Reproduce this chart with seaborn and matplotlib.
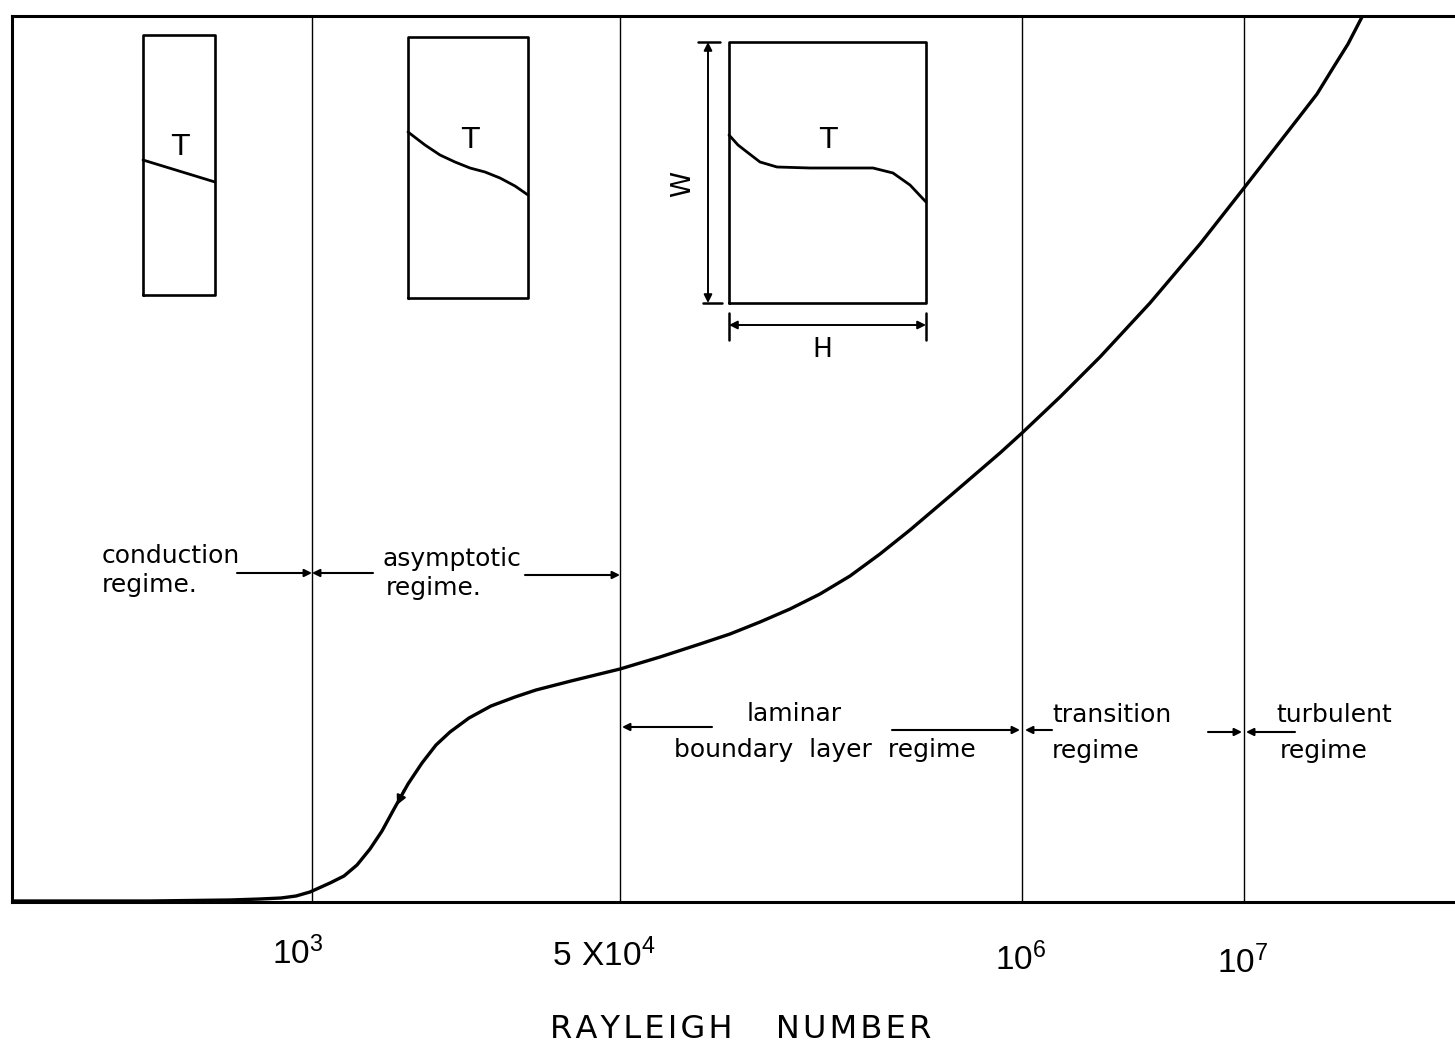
import numpy as np
import pandas as pd
import matplotlib
matplotlib.use("Agg")
import matplotlib.pyplot as plt
import matplotlib.transforms as mtransforms
import seaborn as sns

# ---------------- data (schematic units) ----------------
# Heat-transfer curve vs. Rayleigh number (schematic horizontal position)
curve_x = [0, 138, 218, 248, 269, 284, 298, 318, 332, 345, 358, 370, 382, 396,
           410, 424, 438, 457, 479, 503, 524, 559, 608, 648, 688, 718, 748, 778,
           808, 838, 868, 898, 938, 988, 1010, 1048, 1088, 1138, 1188, 1232,
           1288, 1305, 1321, 1336, 1350]
curve_y = [1, 1, 2, 3, 4, 6, 10, 19, 26, 37, 53, 71, 93, 118,
           139, 157, 170, 184, 196, 205, 212, 221, 233, 245, 258, 268, 280, 293,
           308, 326, 348, 372, 406, 449, 469, 505, 545, 599, 658, 714,
           786, 808, 834, 858, 885]

# Regime boundaries and their tick labels
regime_bounds = [300, 608, 1010, 1232]
tick_labels = [r"$\mathregular{10^{3}}$", r"$\mathregular{5\ X10^{4}}$",
               r"$\mathregular{10^{6}}$", r"$\mathregular{10^{7}}$"]
x_label = "RAYLEIGH   NUMBER"

# Regime names
regime_text = ["conduction", "regime.", "asymptotic", "regime.", "laminar",
               "boundary  layer  regime", "transition", "regime", "turbulent", "regime"]

# Inset sketches: temperature profiles T across the cavity
box1_x = [131, 203]; box1_y = [607, 867]
prof1_x = [131, 203]; prof1_y = [742, 720]
box2_x = [396, 516]; box2_y = [604, 865]
prof2_x = [396, 413, 428, 443, 458, 473, 488, 503, 516]
prof2_y = [770, 757, 747, 740, 734, 730, 724, 716, 707]
box3_x = [717, 914]; box3_y = [599, 860]
prof3_x = [717, 726, 735, 748, 765, 798, 861, 881, 898, 914]
prof3_y = [767, 757, 750, 740, 735, 734, 734, 729, 717, 700]

# ---------------- style ----------------
sns.set_theme(style="white")
plt.rcParams["font.family"] = ["DejaVu Sans"]
plt.rcParams["text.color"] = "black"
plt.rcParams["axes.labelcolor"] = "black"
plt.rcParams["xtick.color"] = "black"
narrow = ["Liberation Sans Narrow", "Liberation Sans", "DejaVu Sans"]

fig = plt.figure(figsize=(14.55, 10.6), dpi=100)
ax = fig.add_axes([12 / 1455, 158 / 1060, 1443 / 1455, 886 / 1060])
ax.set_xlim(0, 1443)
ax.set_ylim(0, 886)

df = pd.DataFrame({"x": curve_x, "y": curve_y})
sns.lineplot(data=df, x="x", y="y", sort=False, color="black", lw=2.4, ax=ax)

for b in regime_bounds:
    ax.axvline(b, color="black", lw=1.0)

# spines
for s in ["left", "bottom", "top"]:
    ax.spines[s].set_visible(True)
    ax.spines[s].set_color("black")
    ax.spines[s].set_linewidth(2.2)
ax.spines["right"].set_visible(False)

ax.set_yticks([])
ax.set_xticks(regime_bounds, tick_labels)
ax.tick_params(axis="x", length=0, pad=25, colors="black")
nudges = [(-14, 0), (-16, -2), (-1, -6), (-1, -9)]
for lab, (dx, dy) in zip(ax.get_xticklabels(), nudges):
    lab.set_fontfamily(narrow)
    lab.set_fontsize(24)
    lab.set_color("black")
    lab.set_transform(lab.get_transform() +
                      mtransforms.ScaledTranslation(dx / 100, dy / 100, fig.dpi_scale_trans))
spaced = "\u200a".join(x_label)
ax.set_xlabel(spaced, fontsize=23, color="black")
ax.xaxis.set_label_coords((741 - 12) / 1443, (902 - 1014) / 886)
ax.set_ylabel("")

# regime labels
fs = 18
text_pos = [(90, 339), (90, 310), (370, 336), (374, 307), (735, 181),
            (662, 145), (1040, 180), (1040, 144), (1264, 180), (1268, 144)]
for t, (x, y) in zip(regime_text, text_pos):
    ax.text(x, y, t, fontsize=fs, ha="left", va="baseline", color="black")

def arrow(x0, y0, x1, y1, ms=11):
    ax.annotate("", xy=(x1, y1), xytext=(x0, y0),
                arrowprops=dict(arrowstyle="-|>", color="black", lw=1.5,
                                mutation_scale=ms, shrinkA=0, shrinkB=0))

arrow(225, 329, 300, 329)
arrow(361, 329, 300, 329)
arrow(513, 327, 608, 327)
arrow(700, 175, 610, 175)
arrow(880, 172, 1008, 172)
arrow(1040, 172, 1013, 172)
arrow(1196, 170, 1230, 170)
arrow(1283, 170, 1234, 170)
# small arrow mark drawn on the curve
arrow(392, 112, 385, 97, ms=14)

# inset sketches
def box(bx, by):
    ax.plot([bx[0], bx[1], bx[1], bx[0], bx[0]], [by[0], by[0], by[1], by[1], by[0]],
            color="black", lw=1.9)

box(box1_x, box1_y)
ax.plot(prof1_x, prof1_y, color="black", lw=2.0)
box(box2_x, box2_y)
ax.plot(prof2_x, prof2_y, color="black", lw=2.0)
box(box3_x, box3_y)
ax.plot(prof3_x, prof3_y, color="black", lw=2.0)
for tx, ty in [(168, 755), (458, 762), (816, 762)]:
    ax.text(tx, ty, "T", fontsize=21, ha="center", va="center", color="black")

# W dimension
ax.annotate("", xy=(696, 860), xytext=(696, 599),
            arrowprops=dict(arrowstyle="<|-|>", color="black", lw=1.4,
                            mutation_scale=12, shrinkA=0, shrinkB=0))
ax.plot([686, 708], [860, 860], color="black", lw=1.8)
ax.plot([691, 710], [599, 599], color="black", lw=1.8)
ax.text(671, 718, "W", fontsize=19, rotation=90, ha="center", va="center", color="black")
# H dimension
ax.annotate("", xy=(717, 577), xytext=(914, 577),
            arrowprops=dict(arrowstyle="<|-|>", color="black", lw=1.4,
                            mutation_scale=12, shrinkA=0, shrinkB=0))
ax.plot([717, 717], [562, 589], color="black", lw=1.8)
ax.plot([914, 914], [562, 589], color="black", lw=1.8)
ax.text(810, 552, "H", fontsize=19, ha="center", va="center", color="black")

fig.savefig("out.png", dpi=100, facecolor="white")
